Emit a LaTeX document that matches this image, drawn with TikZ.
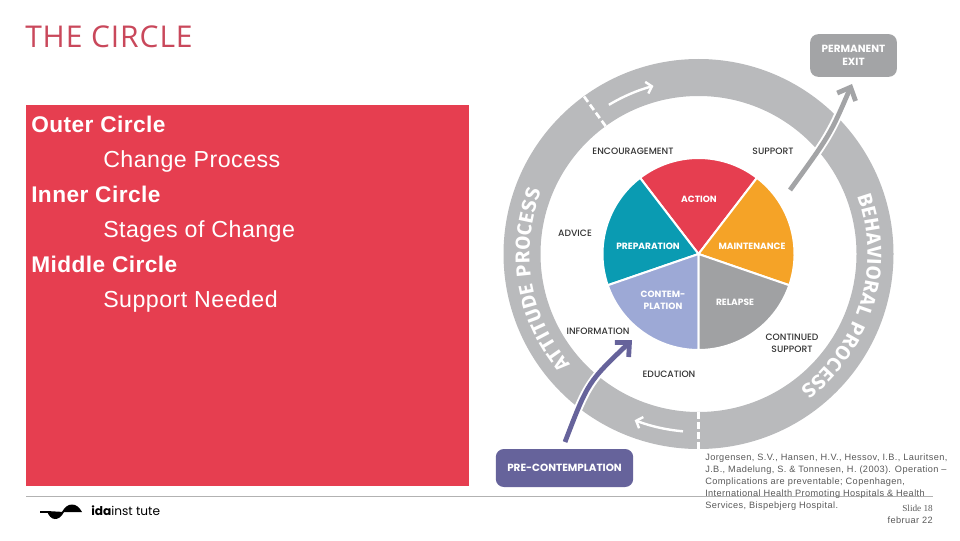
\documentclass[tikz,border=0pt]{standalone}
\usepackage{fontspec}
\setmainfont{Liberation Sans}
\newfontfamily\labelfont{Poppins}
\newfontfamily\supportfont{Poppins Medium}
\newfontfamily\ringfont{Fira Sans}
\newfontfamily\titlefont{Open Sans}
\newfontfamily\slidefont{Liberation Serif}
\usetikzlibrary{arrows.meta,decorations.text,calc}
\definecolor{idared}{HTML}{E63E50}
\definecolor{titlered}{HTML}{C9485B}
\definecolor{ringgray}{HTML}{B9BABC}
\definecolor{exitgray}{HTML}{A3A4A6}
\definecolor{preteal}{HTML}{0A9BB2}
\definecolor{mainorange}{HTML}{F5A327}
\definecolor{contblue}{HTML}{9DA9D6}
\definecolor{relgray}{HTML}{A0A1A3}
\definecolor{prepurple}{HTML}{66639B}
\tikzset{
  stage/.style={font=\labelfont\bfseries\fontsize{6.8}{9}\selectfont,text=white,align=center,inner sep=0pt},
  support/.style={font=\supportfont\fontsize{6.9}{9}\selectfont,text=black!80,align=center,inner sep=0pt},
  exitbox/.style={rounded corners=6pt,text=white,align=center,font=\labelfont\bfseries\fontsize{7.8}{9.5}\selectfont},
  bodytext/.style={anchor=base west,inner sep=0pt,text=white,font=\addfontfeatures{LetterSpace=2}\fontsize{17.4}{20}\selectfont},
  headtext/.style={bodytext,font=\addfontfeatures{LetterSpace=2}\bfseries\fontsize{17}{20}\selectfont},
  notetext/.style={inner sep=0pt,text=black!65,font=\addfontfeatures{LetterSpace=4.3}\fontsize{6.9}{9}\selectfont},
  sector/.style={draw=white,line width=1.5pt},
  ringarrow/.style={-{Straight Barb[length=4pt,width=9pt]},white,line width=1.8pt},
  ringdash/.style={white,line width=2pt,dash pattern=on 5pt off 2.5pt},
  exitarrow/.style={-{Straight Barb[length=8pt,width=15pt]},line width=3.6pt},
}
\begin{document}
\begin{tikzpicture}[x=0.75pt,y=0.75pt]
  \useasboundingbox (0,0) rectangle (960,540);
  \coordinate (c) at (698.5,286);

  % heading and text block
  \node[anchor=base west,inner sep=0pt,text=titlered,font=\titlefont\addfontfeatures{LetterSpace=3}\fontsize{22.5}{25}\selectfont] (title) at (25,492) {THE CIRCLE};
  \fill[idared] (26,54) rectangle (469,435);
  \node[headtext] (outer) at (31,407) {Outer Circle};
  \node[bodytext] (change) at (103,372) {Change Process};
  \node[headtext] (inner) at (31,337) {Inner Circle};
  \node[bodytext] (stages) at (103,303) {Stages of Change};
  \node[headtext] (middle) at (31,268) {Middle Circle};
  \node[bodytext] (needed) at (103,233) {Support Needed};

  % outer ring
  \fill[ringgray,even odd rule] (c) circle (195) (c) circle (158);
  \draw[ringdash] ($(c)+(126:158)$) -- ($(c)+(126:195)$);
  \draw[ringdash] ($(c)+(270:158)$) -- ($(c)+(270:195)$);
  \draw[ringarrow] ($(c)+(121:174)$) arc (121:105:174);
  \draw[ringarrow] ($(c)+(265:178)$) arc (265:249:178);
  \path[postaction={decorate,decoration={text along path,text align={fit to path},
    text={|\ringfont\bfseries\fontsize{15}{16}\selectfont\color{white}|ATTITUDE PROCESS}}}]
    ($(c)+(221:169)$) arc (221:158:169);
  \path[postaction={decorate,decoration={text along path,text align={fit to path},
    text={|\ringfont\bfseries\fontsize{15}{16}\selectfont\color{white}|BEHAVIORAL PROCESS}}}]
    ($(c)+(20:169)$) arc (20:-53:169);

  % pie of stages
  \fill[idared,sector] (c) -- ($(c)+(127.5:96)$) arc (127.5:52.5:96) -- cycle;
  \fill[preteal,sector] (c) -- ($(c)+(199:96)$) arc (199:127.5:96) -- cycle;
  \fill[mainorange,sector] (c) -- ($(c)+(52.5:96)$) arc (52.5:-19:96) -- cycle;
  \fill[contblue,sector] (c) -- ($(c)+(270:96)$) arc (270:199:96) -- cycle;
  \fill[relgray,sector] (c) -- ($(c)+(341:96)$) arc (341:270:96) -- cycle;

  \node[stage] (action) at (699,341) {ACTION};
  \node[stage] (preparation) at (648,294) {PREPARATION};
  \node[stage] (maintenance) at (752,294) {MAINTENANCE};
  \node[stage] (contemplation) at (663,240) {CONTEM-\\PLATION};
  \node[stage] (relapse) at (735,238) {RELAPSE};

  \node[support] (encouragement) at (633,389) {ENCOURAGEMENT};
  \node[support] (supportlabel) at (773,389) {SUPPORT};
  \node[support] (advice) at (575,307) {ADVICE};
  \node[support] (information) at (598,209) {INFORMATION};
  \node[support] (continued) at (792,197) {CONTINUED\\SUPPORT};
  \node[support] (education) at (669,166) {EDUCATION};

  % boxes and the two exits
  \node[exitbox,fill=exitgray,minimum width=65pt,minimum height=32pt] (exit) at (853.5,484.5) {PERMANENT\\EXIT};
  \node[exitbox,fill=prepurple,minimum width=103pt,minimum height=28.5pt] (pre) at (564.5,72) {PRE-CONTEMPLATION};
  \coordinate (exitstart) at (790,350);
  \coordinate (exitend) at (852,456);
  \coordinate (prestart) at (565,98);
  \coordinate (preend) at (632,200);
  \draw[white,line width=6.5pt] (exitstart) .. controls (830,405) .. (exitend);
  \draw[exitarrow,exitgray] (exitstart) .. controls (830,405) .. (exitend);
  \draw[white,line width=6.5pt] (prestart) .. controls (588,158) .. (preend);
  \draw[exitarrow,prepurple] (prestart) .. controls (588,158) .. (preend);

  % reference and footer
  \draw[black!30,line width=0.7pt] (26,44) -- (933,44);
  \node[notetext,anchor=north west,align=left] (source) at (705,86.5)
    {Jorgensen, S.V., Hansen, H.V., Hessov, I.B., Lauritsen,\\J.B., Madelung, S. \& Tonnesen, H. (2003). Operation --\\Complications are preventable; Copenhagen,\\International Health Promoting Hospitals \& Health\\Services, Bispebjerg Hospital.};
  \node[notetext,anchor=base east,font=\slidefont\fontsize{6.9}{8}\selectfont] (slide) at (933,29) {Slide 18};
  \node[notetext,anchor=base east] (date) at (933,17) {februar 22};

  % logo
  \fill[black] (40,27) rectangle (49,29);
  \fill[black] (47,29) .. controls (50,19) and (59,18) .. (64,28) -- cycle;
  \fill[black] (62,28) .. controls (67,38) and (77,38) .. (82,28) -- cycle;
  \node[anchor=base west,inner sep=0pt,font=\labelfont\fontsize{9.1}{10}\selectfont] (logotext) at (91,25) {\textbf{ida}inst tute};
\end{tikzpicture}
\end{document}
